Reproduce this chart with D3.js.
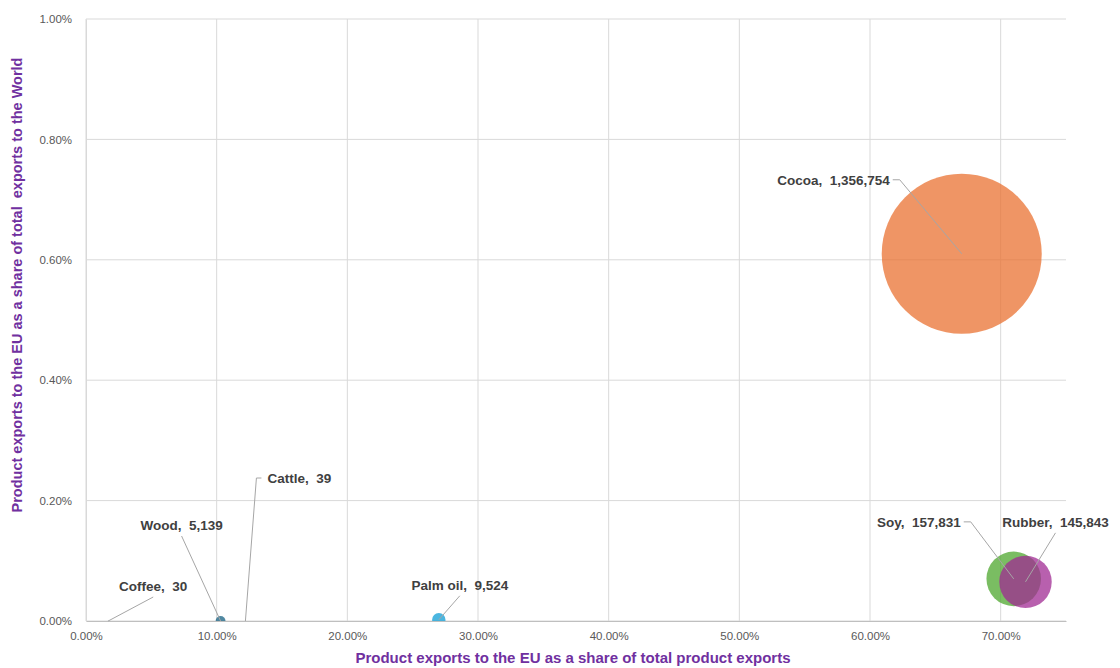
<!DOCTYPE html>
<html>
<head>
<meta charset="utf-8">
<script src="https://cdn.jsdelivr.net/npm/d3@7"></script>
<style>
  body { margin: 0; background: #fff; }
  svg text { font-family: "Liberation Sans", Arial, sans-serif; }
</style>
</head>
<body>
<div id="chart"></div>
<script>
// Data
var products = ["Wood", "Cocoa", "Cattle", "Palm oil", "Rubber", "Soy", "Coffee"];
var shareEU = [0.1030, 0.6702, 0.1220, 0.2700, 0.7190, 0.7100, 0.0170];      // x
var shareWorld = [0.00000, 0.00610, 0.00000, 0.00002, 0.00065, 0.00070, 0.00000]; // y
var exportValue = [5139, 1356754, 39, 9524, 145843, 157831, 30];           // bubble size
var xTicks = [0, 0.1, 0.2, 0.3, 0.4, 0.5, 0.6, 0.7];
var yTicks = [0, 0.002, 0.004, 0.006, 0.008, 0.01];

// label placement (offset of label from bubble centre, px)
var labelPos = {
  "Wood":     {dx: -39, dy: -96, mode: "below"},
  "Cocoa":    {dx: -72, dy: -74, mode: "end"},
  "Cattle":   {dx: 22,  dy: -143, mode: "start"},
  "Palm oil": {dx: 21,  dy: -35, mode: "below"},
  "Rubber":   {dx: 30,  dy: -60, mode: "below"},
  "Soy":      {dx: -53, dy: -57, mode: "end"},
  "Coffee":   {dx: 45,  dy: -35, mode: "below"}
};
var colors = {
  "Wood": "#156082", "Cocoa": "#E97132", "Cattle": "#196B24", "Palm oil": "#0F9ED5",
  "Rubber": "#A02B93", "Soy": "#4EA72E", "Coffee": "#0B3041"
};

var data = products.map(function(p, i) {
  return {name: p, x: shareEU[i], y: shareWorld[i], v: exportValue[i]};
});

var margin = {top: 19, right: 54, bottom: 47, left: 86};
var width = 1120 - margin.left - margin.right;
var height = 668 - margin.top - margin.bottom;

var svg = d3.select("#chart").append("svg")
  .attr("width", 1120)
  .attr("height", 668);

var g = svg.append("g")
  .attr("transform", "translate(" + margin.left + "," + margin.top + ")");

var x = d3.scaleLinear().domain([0, 0.75]).range([0, width]);
var y = d3.scaleLinear().domain([0, 0.01]).range([height, 0]);
var r = d3.scaleSqrt().domain([0, 1356754]).range([0, 80]);

// gridlines
g.append("g")
  .selectAll("line.hgrid")
  .data(yTicks)
  .enter().append("line")
  .attr("x1", 0).attr("x2", width)
  .attr("y1", function(d) { return y(d); })
  .attr("y2", function(d) { return y(d); })
  .attr("stroke", "#D9D9D9");

g.append("g")
  .selectAll("line.vgrid")
  .data(xTicks)
  .enter().append("line")
  .attr("x1", function(d) { return x(d); })
  .attr("x2", function(d) { return x(d); })
  .attr("y1", 0).attr("y2", height)
  .attr("stroke", "#D9D9D9");

// axes
var xAxis = d3.axisBottom(x).tickValues(xTicks).tickSize(0).tickPadding(11)
  .tickFormat(function(d) { return (d * 100).toFixed(2) + "%"; });
var yAxis = d3.axisLeft(y).tickValues(yTicks).tickSize(0).tickPadding(14)
  .tickFormat(function(d) { return (d * 100).toFixed(2) + "%"; });

var gx = g.append("g")
  .attr("transform", "translate(0," + height + ")")
  .call(xAxis);
gx.select(".domain").attr("stroke", "#BFBFBF");
gx.selectAll("text").attr("fill", "#595959").style("font-size", "11.5px");

var gy = g.append("g").call(yAxis);
gy.select(".domain").attr("stroke", "#D9D9D9");
gy.selectAll("text").attr("fill", "#595959").style("font-size", "11.5px");

// bubbles (clipped to the plot area)
svg.append("clipPath").attr("id", "plotclip")
  .append("rect").attr("width", width).attr("height", height);

g.append("g")
  .attr("clip-path", "url(#plotclip)")
  .selectAll("circle")
  .data(data.slice().sort(function(a, b) { return b.v - a.v; }))
  .enter().append("circle")
  .attr("cx", function(d) { return x(d.x); })
  .attr("cy", function(d) { return y(d.y); })
  .attr("r", function(d) { return r(d.v); })
  .attr("fill", function(d) { return colors[d.name]; })
  .attr("fill-opacity", 0.75);

// labels with leader lines
var lab = g.append("g");
data.forEach(function(d) {
  var p = labelPos[d.name];
  var cx = x(d.x), cy = y(d.y);
  var tx = cx + p.dx, ty = cy + p.dy;
  var anchor = p.mode === "end" ? "end" : (p.mode === "start" ? "start" : "middle");
  var pts;
  if (p.mode === "end") {
    pts = [[tx + 3, ty], [tx + 10, ty], [cx, cy]];
  } else if (p.mode === "start") {
    pts = [[tx - 6, ty], [tx - 11, ty], [cx, cy]];
  } else {
    pts = [[tx, ty + 11], [cx, cy]];
  }
  lab.append("polyline")
    .attr("points", pts.map(function(q) { return q.join(","); }).join(" "))
    .attr("fill", "none")
    .attr("stroke", "#A6A6A6")
    .attr("stroke-width", 1);
  lab.append("text")
    .attr("x", tx).attr("y", ty)
    .attr("dy", "0.35em")
    .attr("text-anchor", anchor)
    .attr("fill", "#404040")
    .style("font-size", "13.5px")
    .style("font-weight", "bold")
    .style("white-space", "pre")
    .text(d.name + ",  " + d3.format(",")(d.v));
});

// axis titles
svg.append("text")
  .attr("x", margin.left + width / 2 - 3)
  .attr("y", 663)
  .attr("text-anchor", "middle")
  .attr("fill", "#7030A0")
  .style("font-size", "15px")
  .style("font-weight", "bold")
  .text("Product exports to the EU as a share of total product exports");

svg.append("text")
  .attr("transform", "translate(22," + 285 + ") rotate(-90)")
  .attr("text-anchor", "middle")
  .attr("fill", "#7030A0")
  .style("font-size", "14.5px")
  .style("font-weight", "bold")
  .style("white-space", "pre")
  .text("Product exports to the EU as a share of total  exports to the World");
</script>
</body>
</html>
